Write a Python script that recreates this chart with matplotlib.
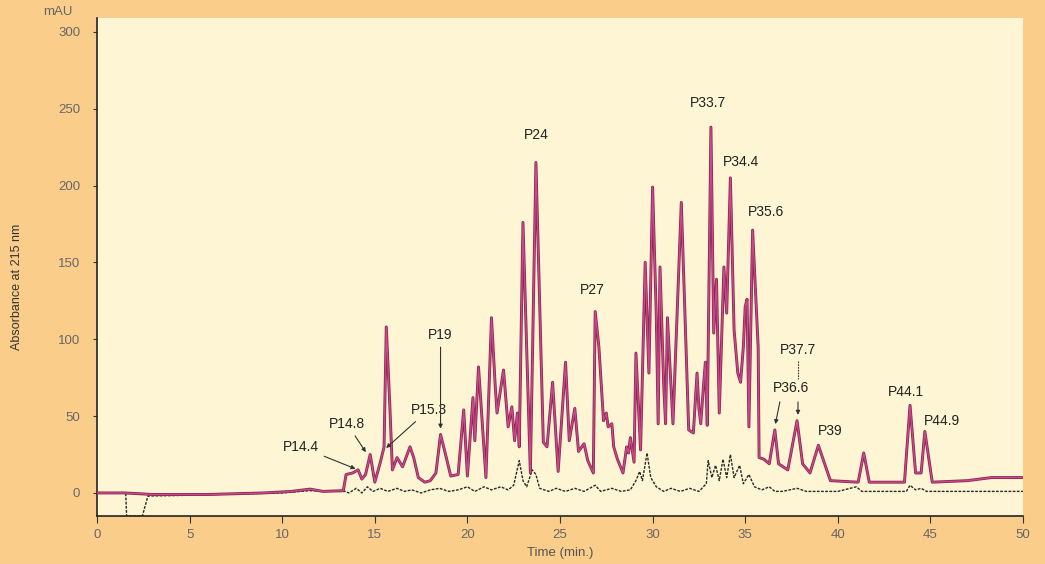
import matplotlib
matplotlib.use("Agg")
import matplotlib.pyplot as plt
import matplotlib.patheffects as pe

plt.rcParams['font.family'] = ['Liberation Sans', 'DejaVu Sans']

# Main chromatogram (magenta) : time (min) / absorbance (mAU)
main_time = [0, 1.5, 3, 6, 9, 10.5, 11.5, 12.2, 13.3, 13.45, 13.8, 14.1, 14.3, 14.5, 14.75,
             15.0, 15.3, 15.5, 15.62, 15.8, 15.95, 16.2, 16.5, 16.9, 17.1, 17.35, 17.7, 18.0,
             18.3, 18.55, 18.8, 19.1, 19.5, 19.8, 20.0, 20.3, 20.4, 20.6, 21.0, 21.3, 21.5,
             21.6, 21.95, 22.2, 22.4, 22.55, 22.7, 22.8, 23.0, 23.2, 23.4, 23.7, 24.1, 24.3,
             24.6, 24.9, 25.3, 25.5, 25.8, 26.0, 26.3, 26.5, 26.8, 26.9, 27.1, 27.35, 27.5,
             27.6, 27.8, 27.9, 28.1, 28.4, 28.6, 28.7, 28.8, 29.0, 29.1, 29.35, 29.6, 29.8,
             30.0, 30.2, 30.3, 30.4, 30.6, 30.7, 30.8, 31.1, 31.55, 31.95, 32.2, 32.4, 32.5,
             32.6, 32.75, 32.85, 32.95, 33.15, 33.3, 33.45, 33.6, 33.85, 34.0, 34.2, 34.4,
             34.6, 34.75, 34.9, 35.0, 35.1, 35.2, 35.4, 35.7, 35.75, 36.0, 36.3, 36.6, 36.8,
             37.3, 37.8, 38.1, 38.5, 38.95, 39.6, 41.1, 41.4, 41.7, 43.6, 43.9, 44.2, 44.5,
             44.7, 45.1, 47.0, 48.3, 50.0]
main_abs = [0, 0, -1, -1, 0, 1, 2.5, 1, 1.5, 12, 13, 15, 9, 12, 25,
            7, 20, 30, 108, 60, 15, 23, 17, 30, 23, 10, 7, 8,
            13, 38, 26, 11, 12, 54, 11, 62, 34, 82, 10, 114, 70,
            52, 80, 43, 56, 34, 52, 30, 176, 95, 13, 215, 33, 30,
            72, 14, 85, 34, 55, 27, 32, 21, 13, 118, 95, 47, 52,
            43, 45, 30, 22, 13, 30, 26, 36, 20, 91, 28, 150, 78,
            199, 115, 45, 147, 70, 45, 114, 45, 189, 41, 39, 78, 55,
            45, 70, 85, 44, 238, 104, 139, 52, 147, 117, 205, 106,
            78, 72, 95, 121, 126, 43, 171, 95, 23, 22, 19, 41, 19,
            15, 47, 19, 13, 31, 8, 7, 26, 7, 7, 57, 13, 13,
            40, 7, 8, 10, 10]

# Second chromatogram (dark, dotted)
ref_time = [0, 1.55, 1.6, 2.45, 2.75, 5, 8, 10, 11.5, 12.5, 13.4, 13.6, 14.0, 14.3, 14.6,
            14.9, 15.3, 15.7, 16.2, 16.6, 17.0, 17.5, 18.0, 18.5, 19.0, 19.5, 20.0, 20.4,
            20.9, 21.3, 21.8, 22.2, 22.5, 22.8, 23.0, 23.2, 23.5, 23.7, 23.9, 24.4, 24.8,
            25.3, 25.8, 26.3, 26.9, 27.2, 27.8, 28.3, 28.8, 29.1, 29.3, 29.45, 29.7, 29.9,
            30.2, 30.6, 31.0, 31.5, 32.0, 32.5, 32.9, 33.0, 33.2, 33.4, 33.6, 33.8, 34.0,
            34.2, 34.4, 34.7, 34.9, 35.2, 35.5, 35.9, 36.3, 36.6, 37.0, 37.8, 38.3, 40.0,
            41.0, 41.3, 43.7, 43.9, 44.2, 44.5, 44.8, 50.0]
ref_abs = [0, 0, -15, -15, -2, -1.5, -0.5, 0, 1.5, 1, 1, 0, 3, 0, 4,
           1, 3, 1, 3, 1, 2, 0, 2, 3, 1, 2, 4, 1,
           4, 2, 4, 2, 5, 21, 8, 4, 15, 12, 3, 1, 3,
           1, 3, 1, 5, 1, 3, 1, 2, 8, 14, 8, 26, 10,
           4, 1, 3, 1, 3, 1, 6, 21, 10, 18, 8, 22, 10,
           25, 10, 18, 6, 12, 4, 2, 4, 1, 1, 3, 1, 1,
           4, 1, 1, 5, 2, 3, 1, 1]

x_ticks = [0, 5, 10, 15, 20, 25, 30, 35, 40, 45, 50]
y_ticks = [0, 50, 100, 150, 200, 250, 300]

fig = plt.figure(figsize=(10.45, 5.64), dpi=100, facecolor='#fbcd8a')
ax = fig.add_axes([97 / 1045, 1 - 516 / 564, (1023 - 97) / 1045, (516 - 18) / 564])
ax.set_facecolor('#fdf5d3')

ax.plot(ref_time, ref_abs, color='#2a2a2a', lw=1.0, ls=(0, (2.0, 1.0)), zorder=2)
ax.plot(main_time, main_abs, color='#c8488a', lw=1.0, zorder=3,
        path_effects=[pe.Stroke(linewidth=2.1, foreground='#8a2450'), pe.Normal()])

ax.set_xlim(0, 50)
ax.set_ylim(-15, 309)
ax.set_xticks(x_ticks)
ax.set_yticks(y_ticks)
ax.tick_params(axis='both', colors='#333333', labelcolor='#666666', labelsize=9.5)
ax.tick_params(axis='y', length=3, pad=9)
ax.tick_params(axis='x', length=5, pad=4)
for s in ['top', 'right']:
    ax.spines[s].set_visible(False)
for s in ['left', 'bottom']:
    ax.spines[s].set_color('#222222')
    ax.spines[s].set_linewidth(1.2)

ax.set_xlabel('Time (min.)', fontsize=9.5, color='#555555', labelpad=5)
ax.set_ylabel('Absorbance at 215 nm', fontsize=9, color='#333333',
              family=['Liberation Sans Narrow', 'Liberation Sans', 'DejaVu Sans'])
ax.yaxis.set_label_coords(-0.08, 0.46)
ax.text(-0.026, 1.0, 'mAU', transform=ax.transAxes, ha='right', va='bottom',
        fontsize=9.5, color='#666666')

kw = dict(fontsize=10, color='#222222', ha='center', va='center')
arr = dict(arrowstyle='-|>', color='#333333', lw=0.8, mutation_scale=6)

ax.annotate('P14.4', xy=(14.1, 15), xytext=(11.0, 30), arrowprops=arr, **kw)
ax.annotate('P14.8', xy=(14.6, 25), xytext=(13.5, 45), arrowprops=arr, **kw)
ax.annotate('P15.3', xy=(15.5, 28), xytext=(17.9, 54), arrowprops=arr, **kw)
ax.annotate('P19', xy=(18.55, 40), xytext=(18.55, 103), arrowprops=arr, **kw)
ax.text(23.7, 233, 'P24', **kw)
ax.text(26.75, 132, 'P27', **kw)
ax.text(33.0, 254, 'P33.7', **kw)
ax.text(34.8, 215, 'P34.4', **kw)
ax.text(36.1, 183, 'P35.6', **kw)
ax.text(37.85, 93, 'P37.7', **kw)
ax.text(37.45, 68, 'P36.6', **kw)
ax.plot([37.85, 37.85], [86, 74], color='#333333', lw=0.8, ls=(0, (1.5, 1)))
ax.annotate('', xy=(37.85, 49), xytext=(37.85, 61), arrowprops=arr)
ax.annotate('', xy=(36.6, 43), xytext=(36.9, 61), arrowprops=arr)
ax.text(39.6, 40, 'P39', **kw)
ax.text(43.7, 66, 'P44.1', **kw)
ax.text(45.6, 47, 'P44.9', **kw)

fig.savefig('out.png', dpi=100, facecolor=fig.get_facecolor())
